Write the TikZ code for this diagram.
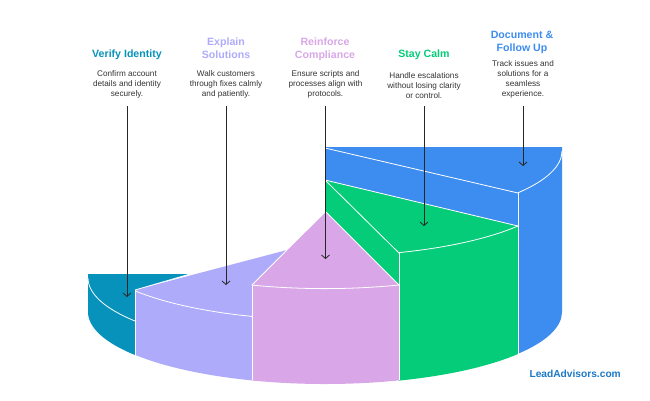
\documentclass[tikz,border=0pt]{standalone}
\usepackage{fontspec}
\setmainfont{Liberation Sans}
\usetikzlibrary{arrows.meta}
\definecolor{tealseg}{HTML}{0792BB}
\definecolor{lavseg}{HTML}{AFABFB}
\definecolor{pinkseg}{HTML}{D9A6E7}
\definecolor{greenseg}{HTML}{04CC78}
\definecolor{blueseg}{HTML}{3D8CF0}
\definecolor{logoblue}{HTML}{1B78C6}
\tikzset{
    desc/.style={anchor=south, align=center, inner xsep=0pt, inner ysep=7.4pt, font=\fontsize{8.2}{10}\selectfont, text=black!80},
    heading/.style={anchor=south, align=center, inner sep=0pt, font=\fontsize{10.6}{13.2}\selectfont\bfseries},
    seam/.style={white, line width=0.8pt},
    pointer/.style={black!85, line width=0.8pt, -{Straight Barb[length=3.5pt,width=8pt]}}
}
\begin{document}
\begin{tikzpicture}[x=1pt,y=-1pt]
    \useasboundingbox (0,0) rectangle (650,400);
    % segments
    \fill[tealseg](88,274)--(190,274)--(135,290)--(135,355) arc[start angle=143.3,end angle=180,x radius=237,y radius=72]--cycle;
    \fill[lavseg](135,290)--(287,250)--(252,285)--(252,380.4) arc[start angle=108,end angle=143.3,x radius=237,y radius=72]--cycle;
    \fill[pinkseg](252,285)--(326,212)--(399,285)--(399,380.4) arc[start angle=71.8,end angle=108,x radius=237,y radius=72]--cycle;
    \fill[greenseg](325,180)--(518,226)--(518,354) arc[start angle=35.5,end angle=71.8,x radius=237,y radius=72]--(399,285)--(326,212)--cycle;
    \fill[blueseg](325,147)--(562,147)--(562,312) arc[start angle=0,end angle=35.5,x radius=237,y radius=72]--(518,226)--(325,180)--cycle;
    % seams
    \draw[seam](135,290)--(135,355);
    \draw[seam](252,285)--(252,380.4);
    \draw[seam](399,253)--(399,380.4);
    \draw[seam](518,193)--(518,354);
    \draw[seam](287,250)--(252,285);
    \draw[seam](326,212)--(399,285);
    \draw[seam](325,180)--(399,253);
    \draw[seam](325,180)--(518,226);
    \draw[seam](325,148)--(518,193);
    \draw[seam](135,290)--(190,274);
    \draw[seam](562,151) arc[start angle=0,end angle=35.5,x radius=237,y radius=72];
    \draw[seam](518,226) arc[start angle=35.5,end angle=71.8,x radius=237,y radius=72];
    \draw[seam](399,285) arc[start angle=71.8,end angle=108,x radius=237,y radius=72];
    \draw[seam](252,316.4) arc[start angle=108,end angle=143.3,x radius=237,y radius=72];
    \draw[seam](135,321) arc[start angle=143.3,end angle=180,x radius=237,y radius=72];
    % descriptions
    \node[desc] (verify) at (127,106) {Confirm account\\details and identity\\securely.};
    \node[desc] (explain) at (226,106) {Walk customers\\through fixes calmly\\and patiently.};
    \node[desc] (reinforce) at (325.5,106) {Ensure scripts and\\processes align with\\protocols.};
    \node[desc] (calm) at (424,106) {Handle escalations\\without losing clarity\\or control.};
    \node[desc] (document) at (523,106) {Track issues and\\solutions for a\\seamless\\experience.};
    % headings
    \node[heading, text=tealseg] (verifyhead) at (127,60) {Verify Identity};
    \node[heading, text=lavseg] (explainhead) at (226,59) {Explain\\Solutions};
    \node[heading, text=pinkseg] (reinforcehead) at (325,61) {Reinforce\\Compliance};
    \node[heading, text=greenseg] (calmhead) at (424,60) {Stay Calm};
    \node[heading, text=blueseg] (documenthead) at (522,54) {Document \&\\Follow Up};
    % pointers
    \foreach \name/\x/\y in {verify/127/297,explain/226/285,reinforce/325.5/259,calm/424/226,document/523/166}{
        \coordinate (\name tip) at (\x,\y);
        \draw[pointer](\name.south)--(\name tip);
    }
    \node[anchor=east, inner sep=0pt, text=logoblue, font=\fontsize{10.2}{12}\selectfont\bfseries] (logo) at (621,374) {LeadAdvisors.com};
\end{tikzpicture}
\end{document}
